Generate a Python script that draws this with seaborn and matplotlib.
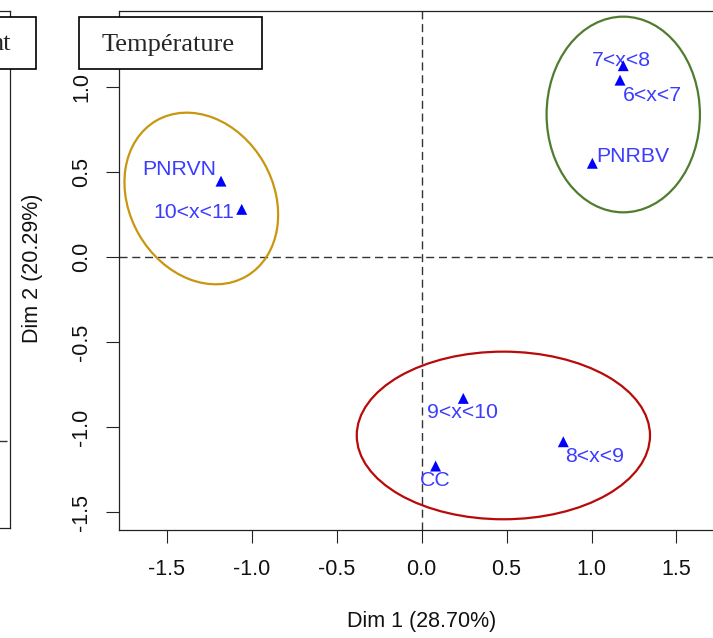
import matplotlib
matplotlib.use("Agg")
import matplotlib.pyplot as plt
from matplotlib.patches import Ellipse, Rectangle
import seaborn as sns
import pandas as pd

# ---------------- data ----------------
categories = ["PNRVN", "10<x<11", "7<x<8", "6<x<7", "PNRBV", "9<x<10", "8<x<9", "CC"]
dim1 = [-1.182, -1.060, 1.187, 1.168, 1.005, 0.245, 0.834, 0.082]
dim2 = [0.448, 0.282, 1.127, 1.042, 0.553, -0.830, -1.085, -1.228]

ell_cx = [-1.298, 1.187, 0.481]
ell_cy = [0.346, 0.840, -1.048]
ell_w = [1.058, 0.903, 1.727]
ell_h = [0.848, 1.151, 0.986]
ell_angle = [120, 0, 0]

xticks = [-1.5, -1.0, -0.5, 0.0, 0.5, 1.0, 1.5]
yticks = [-1.5, -1.0, -0.5, 0.0, 0.5, 1.0]
xtick_labels = ["-1.5", "-1.0", "-0.5", "0.0", "0.5", "1.0", "1.5"]
ytick_labels = ["-1.5", "-1.0", "-0.5", "0.0", "0.5", "1.0"]

xlabel = "Dim 1 (28.70%)"
ylabel = "Dim 2 (20.29%)"
title_main = "Température"
title_left = "nt"

# ---------------- styles ----------------
ell_colors = ["#C8960F", "#4F7D2D", "#B80A0A"]
label_ha = ["right", "right", "center", "left", "left", "center", "left", "center"]
label_dx = [-3.6, -5.5, -1.4, 2.2, 2.7, -0.9, 1.2, 0.0]
label_dy = [8.6, -2.4, 4.1, -10.8, 4.8, -10.4, -10.3, -10.1]

sns.set_style("white")
plt.rcParams["font.family"] = ["Liberation Sans", "DejaVu Sans"]
plt.rcParams["axes.unicode_minus"] = False

W, H = 713, 638
fig = plt.figure(figsize=(W / 100, H / 100), dpi=100)


def fx(px):
    return px / W


def fy(py):
    return 1 - py / H


# main axes geometry (pixels)
L, T, B = 119, 11, 530
X0, XS = 421.7, 169.8
Y0, YS = 257.3, 170.0
RIGHT = 752.8

ax = fig.add_axes([fx(L), fy(B), fx(RIGHT) - fx(L), fy(T) - fy(B)])
ax.set_xlim((L - X0) / XS, (RIGHT - X0) / XS)
ax.set_ylim((Y0 - B) / YS, (Y0 - T) / YS)

df = pd.DataFrame({"Dim1": dim1, "Dim2": dim2, "cat": categories})

spine_col = "#222222"
for s in ax.spines.values():
    s.set_color(spine_col)
    s.set_linewidth(0.9)

ax.axhline(0, color="#333333", lw=1.0, ls=(0, (5.8, 3.4)), zorder=1)
ax.axvline(0, color="#333333", lw=1.0, ls=(0, (5.8, 3.4)), zorder=1)

for cx, cy, w, h, a, c in zip(ell_cx, ell_cy, ell_w, ell_h, ell_angle, ell_colors):
    ax.add_patch(Ellipse((cx, cy), w, h, angle=a, fill=False, edgecolor=c, lw=1.6, zorder=2))

for i, row in df.iterrows():
    ax.annotate(row["cat"], (row["Dim1"], row["Dim2"]), xytext=(label_dx[i], label_dy[i]),
                textcoords="offset points", ha=label_ha[i], va="center",
                color="#3C3CFF", fontsize=15.3, zorder=3)

sns.scatterplot(data=df, x="Dim1", y="Dim2", marker="^", s=62, color="#0000FF",
                edgecolor="none", linewidth=0, ax=ax, zorder=4, legend=False)

ax.set_xticks(xticks)
ax.set_xticklabels(xtick_labels)
ax.set_yticks(yticks)
ax.set_yticklabels(ytick_labels, rotation=90, va="center")
ax.tick_params(axis="both", which="both", direction="out", length=9.1, width=0.8,
               color=spine_col, labelsize=15.5, labelcolor="#111111", pad=10,
               bottom=True, left=True)
ax.tick_params(axis="x", pad=12)

ax.set_xlabel(xlabel, fontsize=15.5, color="#111111")
ax.set_ylabel(ylabel, fontsize=15.5, color="#111111")
ax.xaxis.set_label_coords(fx(422), fy(621), transform=fig.transFigure)
ax.xaxis.label.set_va("center")
ax.yaxis.set_label_coords(fx(33), fy(268), transform=fig.transFigure)
ax.yaxis.label.set_va("center")

# left partial panel
LB, LT, LR = 527.7, 11, 10
ax0 = fig.add_axes([fx(-300), fy(LB), fx(LR) - fx(-300), fy(LT) - fy(LB)])
ax0.set_xlim(0, 1)
ax0.set_ylim(-0.168, 0.832)
ax0.axhline(0, color="#333333", lw=1.0, ls=(0, (5.8, 3.4)))
ax0.set_xticks([])
ax0.set_yticks([])
for s in ax0.spines.values():
    s.set_color(spine_col)
    s.set_linewidth(0.9)

# title boxes
def title_box(x_left, x_right, text, text_right=None):
    y_top, y_bot = 16.7, 69
    r = Rectangle((fx(x_left), fy(y_bot)), fx(x_right) - fx(x_left), fy(y_top) - fy(y_bot),
                  transform=fig.transFigure, facecolor="white", edgecolor="black",
                  lw=1.2, zorder=10)
    fig.add_artist(r)
    if text_right is None:
        fig.text(fx((x_left + x_right) / 2 - 2), fy(44.5), text, ha="center", va="center",
                 family=["Liberation Serif", "DejaVu Serif"], fontsize=19, zorder=11)
    else:
        fig.text(fx(text_right), fy(44.5), text, ha="right", va="center",
                 family=["Liberation Serif", "DejaVu Serif"], fontsize=19, zorder=11)


title_box(79.3, 261.7, title_main)
title_box(-20, 36, title_left, text_right=11)

fig.savefig("out.png", dpi=100)
